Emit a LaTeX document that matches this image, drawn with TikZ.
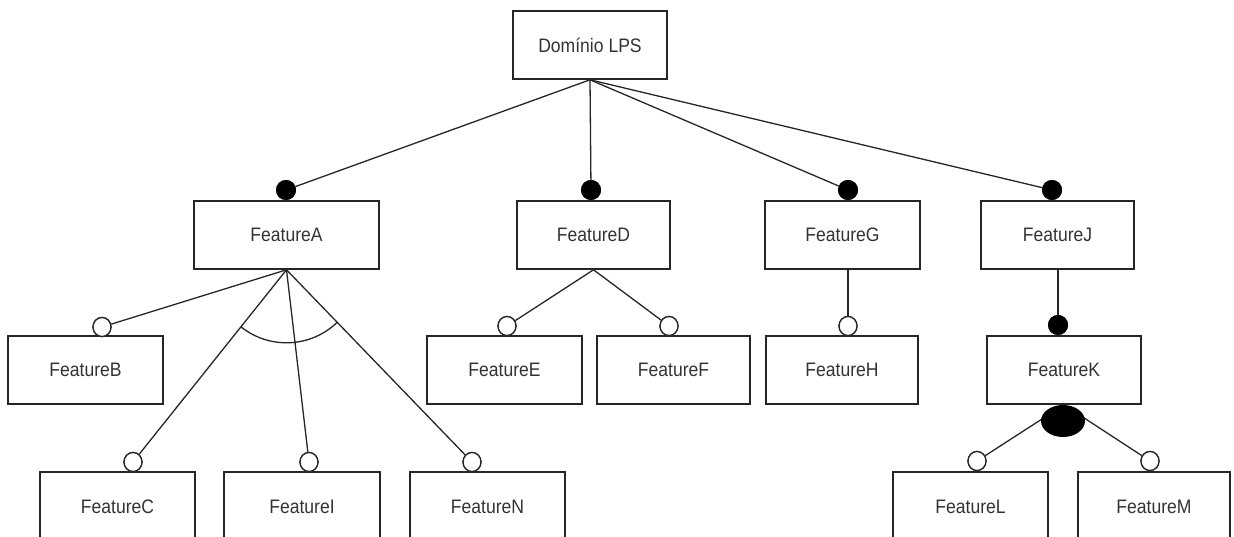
\documentclass[tikz,border=0pt]{standalone}
\usepackage{fontspec}
\setmainfont{Liberation Sans}[FakeStretch=0.9]
\usetikzlibrary{shapes.geometric}
\begin{document}
\begin{tikzpicture}[x=1pt,y=-1pt,
  feature/.style={draw=black!85, line width=1.6pt, fill=white, minimum height=68pt,
    inner sep=0pt, text=black!80, font=\fontsize{19.5}{22}\selectfont},
  mandatory/.style={circle, fill=black, minimum size=20pt, inner sep=0pt},
  optional/.style={ellipse, draw=black!85, line width=1.3pt, fill=white,
    minimum width=18pt, minimum height=19pt, inner sep=0pt},
  link/.style={draw=black!85, line width=1.3pt}]
\useasboundingbox (0,0) rectangle (1234,537);

% feature boxes
\node[feature, minimum width=154pt] (root) at (590,45) {Domínio LPS};
\node[feature, minimum width=185pt] (A) at (286.5,235) {FeatureA};
\node[feature, minimum width=153pt] (D) at (593.5,235) {FeatureD};
\node[feature, minimum width=155pt] (G) at (842.5,235) {FeatureG};
\node[feature, minimum width=153pt] (J) at (1057.5,235) {FeatureJ};
\node[feature, minimum width=155pt] (B) at (85.5,370) {FeatureB};
\node[feature, minimum width=155pt] (E) at (504.5,370) {FeatureE};
\node[feature, minimum width=153pt] (F) at (673.5,370) {FeatureF};
\node[feature, minimum width=152pt] (H) at (842,370) {FeatureH};
\node[feature, minimum width=154pt] (K) at (1064,370) {FeatureK};
\node[feature, minimum width=155pt, minimum height=70pt] (C) at (117.5,507) {FeatureC};
\node[feature, minimum width=156pt, minimum height=70pt] (I) at (302,507) {FeatureI};
\node[feature, minimum width=155pt, minimum height=70pt] (N) at (487.5,507) {FeatureN};
\node[feature, minimum width=155pt, minimum height=70pt] (L) at (970.5,507) {FeatureL};
\node[feature, minimum width=152pt, minimum height=70pt] (M) at (1154,507) {FeatureM};

% connector ends: filled = mandatory, hollow = optional
\node[mandatory] (cA) at (286,190) {};
\node[mandatory] (cD) at (591,190) {};
\node[mandatory] (cG) at (848,190) {};
\node[mandatory] (cJ) at (1052,190) {};
\node[mandatory] (cK) at (1058,325) {};
\node[optional] (cB) at (102,327) {};
\node[optional] (cE) at (507,326) {};
\node[optional] (cF) at (669,326) {};
\node[optional] (cH) at (848,326) {};
\node[optional] (cC) at (133,462) {};
\node[optional] (cI) at (309,462) {};
\node[optional] (cN) at (472,462) {};
\node[optional] (cL) at (977,461) {};
\node[optional] (cM) at (1150,461) {};

% connectors
\foreach \t in {cA,cD,cG,cJ} \draw[link] (root.south) -- (\t);
\foreach \t in {cB,cC,cI,cN} \draw[link] (A.south) -- (\t);
\foreach \t in {cE,cF} \draw[link] (D.south) -- (\t);
\draw[link] (G.south -| cH) -- (cH);
\draw[link] (J.south -| cK) -- (cK);
\foreach \t in {cL,cM} \draw[link] (K.south) -- (\t);

% alternative group arc below FeatureA
\draw[link] ([shift={(231.5:73pt)}]A.south) arc[start angle=231.5, end angle=313.9, radius=73pt];

% or-group marker below FeatureK
\node[ellipse, fill=black, minimum width=44pt, minimum height=32pt, inner sep=0pt] (orK) at (1063,421) {};

% redraw markers on top of the lines
\foreach \c in {cA,cD,cG,cJ,cK} \node[mandatory] at (\c) {};
\foreach \c in {cB,cE,cF,cH,cC,cI,cN,cL,cM} \node[optional] at (\c) {};
\end{tikzpicture}
\end{document}
